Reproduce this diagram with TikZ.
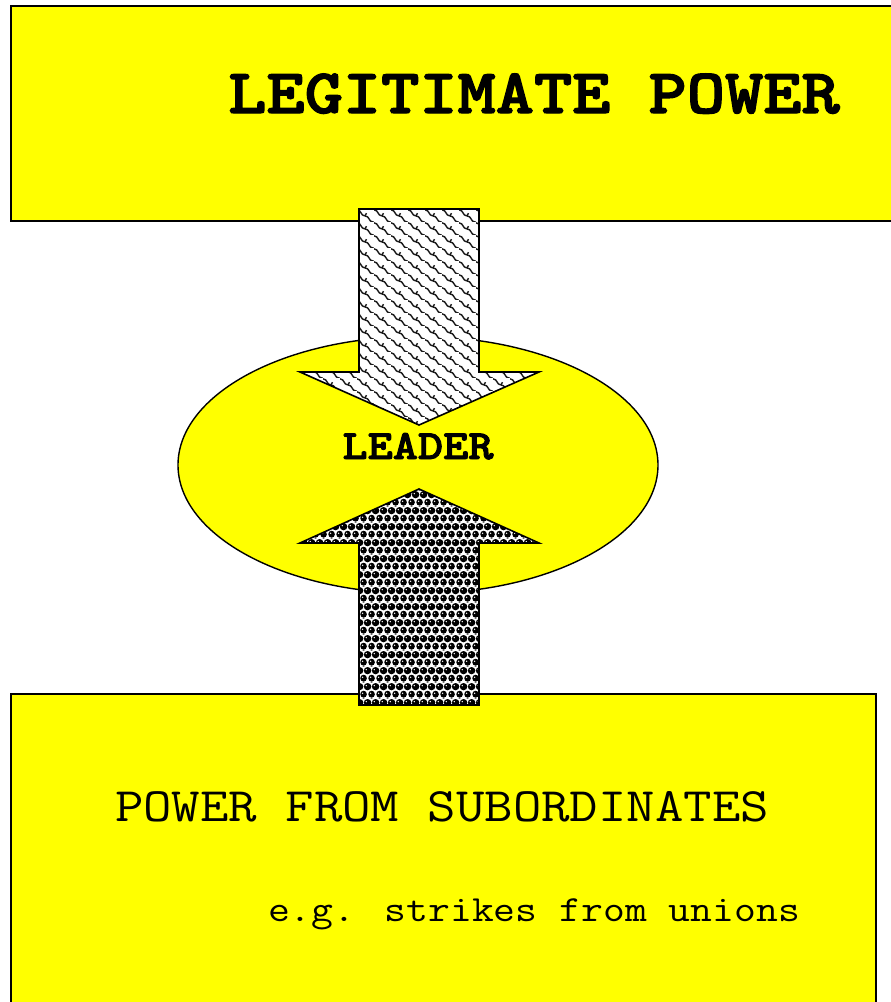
\documentclass[tikz,border=0pt]{standalone}
\usepackage{fontspec}
\newfontfamily\heavytt{lmmonolt10-bold.otf}[FakeBold=2]
\usetikzlibrary{shapes.geometric,patterns.meta}
\definecolor{panelyellow}{RGB}{255,255,0}
\newcommand{\widetext}[1]{\scalebox{1.15}[1]{#1}}

\tikzdeclarepattern{
  name=chainmail, type=colored,
  bottom left={(0pt,0pt)}, top right={(17pt,13pt)},
  tile size={(17pt,13pt)},
  code={
    \fill[white] (0pt,0pt) rectangle (17pt,13pt);
    \draw[black!90,line width=1.5pt] (0pt,13pt) .. controls (5pt,13pt) and (3.5pt,6.5pt) .. (8.5pt,6.5pt)
      .. controls (13.5pt,6.5pt) and (12pt,0pt) .. (17pt,0pt);
    \draw[black!90,line width=1.5pt] (8.5pt,6.5pt) -- (10pt,9.5pt);
  }
}

\tikzdeclarepattern{
  name=beads, type=colored,
  bottom left={(0pt,0pt)}, top right={(8pt,16pt)},
  tile size={(8pt,16pt)},
  code={
    \fill[white] (0pt,0pt) rectangle (8pt,16pt);
    \foreach \cx/\cy in {4/4,0/12,8/12,0/-4,8/-4,4/20}
      \fill[black] (\cx pt,\cy pt) circle[radius=3.7pt];
    \foreach \cx/\cy in {4/4,0/12,8/12}
      \fill[white] ([xshift=-1pt,yshift=1pt]\cx pt,\cy pt) circle[radius=0.8pt];
  }
}

\begin{document}
\begin{tikzpicture}[x=1pt,y=-1pt,
  panel/.style={draw=black,line width=2pt,fill=panelyellow},
  blockarrow/.style={draw=black,line width=1.6pt,line join=miter,preaction={fill=white}},
  bigbold/.style={font=\fontsize{63.3}{70}\selectfont\heavytt},
  midplain/.style={font=\fontsize{48}{54}\selectfont\ttfamily},
  smallplain/.style={font=\fontsize{36.9}{42}\selectfont\ttfamily},
  leaderfont/.style={font=\fontsize{41.7}{48}\selectfont\heavytt}]
\useasboundingbox (0,0) rectangle (891,1002);

% top box
\draw[panel] (11,6) rectangle (910,221);
\node[bigbold,anchor=base] (legit) at (534,113) {\widetext{LEGITIMATE POWER}};

% bottom box
\draw[panel] (11,694) rectangle (876,1030);
\node[midplain,anchor=base] (subord) at (442,821) {\widetext{POWER FROM SUBORDINATES}};
\node[smallplain,anchor=base] (strikes) at (534,921) {\widetext{e.g. strikes from unions}};

% leader in the middle
\node[ellipse,draw=black,fill=panelyellow,line width=1.4pt,inner sep=0pt,
  minimum width=480pt,minimum height=257pt] (leader) at (418,465) {};

% arrows
\draw[blockarrow,pattern=chainmail] (359,209) -- (479,209) -- (479,372) -- (539,372)
  -- (419,425) -- (300,372) -- (359,372) -- cycle;
\draw[blockarrow,pattern=beads] (359,705) -- (479,705) -- (479,543) -- (539,543)
  -- (419,489) -- (300,543) -- (359,543) -- cycle;

\node[leaderfont,anchor=base] (leadertxt) at (418,459) {\widetext{LEADER}};
\end{tikzpicture}
\end{document}
